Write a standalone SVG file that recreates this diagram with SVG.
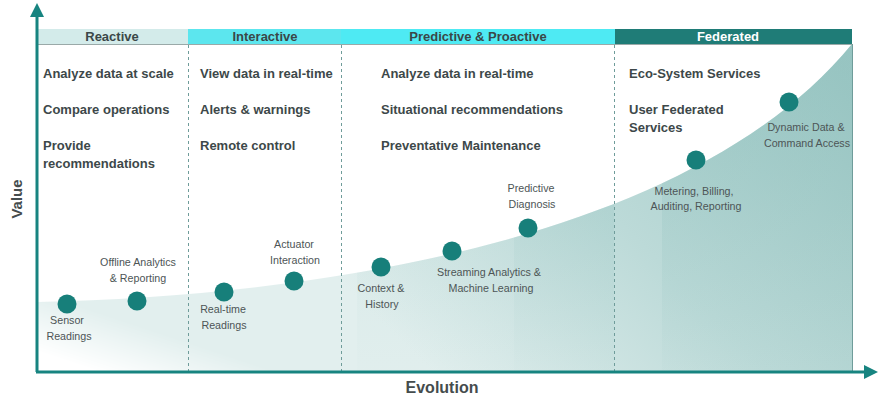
<svg xmlns="http://www.w3.org/2000/svg" width="880" height="404" viewBox="0 0 880 404">
  <style>
    .hd { font-family: "Liberation Sans", Arial, sans-serif; font-weight: bold; font-size: 13px; fill: #3a4748; text-anchor: middle; }
    .it { font-family: "Liberation Sans", Arial, sans-serif; font-weight: bold; font-size: 13px; fill: #3d4849; }
    .lb { font-family: "Liberation Sans", Arial, sans-serif; font-size: 10.7px; fill: #4d5556; text-anchor: middle; }
    .ax { font-family: "Liberation Sans", Arial, sans-serif; font-weight: bold; fill: #454c4d; text-anchor: middle; }
    .dash { stroke: #6f9c9a; stroke-width: 1; stroke-dasharray: 3 3; fill: none; }
    .dot { fill: #177f7a; }
  </style>
  <defs>
    <linearGradient id="fillG" gradientUnits="userSpaceOnUse" x1="852" y1="44" x2="480" y2="420">
      <stop offset="0" stop-color="#9cc7c4"/>
      <stop offset="0.55" stop-color="#bcdad8"/>
      <stop offset="1" stop-color="#e2efee"/>
    </linearGradient>
    <linearGradient id="fadeG" gradientUnits="userSpaceOnUse" x1="62" y1="280" x2="38" y2="352">
      <stop offset="0" stop-color="#fff"/>
      <stop offset="0.25" stop-color="#fff"/>
      <stop offset="1" stop-color="#000"/>
    </linearGradient>
    <linearGradient id="bandG" gradientUnits="userSpaceOnUse" x1="0" y1="60" x2="0" y2="372">
      <stop offset="0" stop-color="#8fc0bd" stop-opacity="0.55"/>
      <stop offset="1" stop-color="#8fc0bd" stop-opacity="0.05"/>
    </linearGradient>
    <mask id="fadeM" maskUnits="userSpaceOnUse" x="0" y="0" width="880" height="404">
      <rect x="0" y="0" width="880" height="404" fill="url(#fadeG)"/>
    </mask>
    <clipPath id="areaClip">
      <path d="M37,302 C350,295 700,230 852,44 L852,371 L37,371 Z"/>
    </clipPath>
  </defs>

  <!-- area under curve -->
  <g id="area" mask="url(#fadeM)">
    <path d="M37,302 C350,295 700,230 852,44 L852,371 L37,371 Z" fill="url(#fillG)"/>
    <g clip-path="url(#areaClip)">
      <rect x="357" y="40" width="157" height="332" fill="url(#bandG)" opacity="0.35"/>
      <rect x="514" y="40" width="100" height="332" fill="url(#bandG)" opacity="0.8"/>
      <rect x="662" y="40" width="190" height="332" fill="url(#bandG)" opacity="0.8"/>
    </g>
  </g>

  <!-- header band -->
  <g id="header">
    <rect x="37" y="29" width="151" height="15" fill="#d3ebea"/>
    <rect x="188" y="29" width="153" height="15" fill="#5ce6ee"/>
    <rect x="341" y="29" width="274" height="15" fill="#4eeaf3"/>
    <rect x="615" y="29" width="237" height="15" fill="#1f7c77"/>
    <line x1="37" y1="44.5" x2="852" y2="44.5" stroke="#9aa9a8" stroke-width="1"/>
    <text class="hd" x="112" y="41">Reactive</text>
    <text class="hd" x="265" y="41">Interactive</text>
    <text class="hd" x="478" y="41">Predictive &amp; Proactive</text>
    <text class="hd" x="728" y="41" style="fill:#ffffff">Federated</text>
  </g>

  <!-- frame and separators -->
  <g id="separators">
    <line class="dash" x1="188.5" y1="45" x2="188.5" y2="371"/>
    <line class="dash" x1="341.5" y1="45" x2="341.5" y2="371"/>
    <line class="dash" x1="614.5" y1="45" x2="614.5" y2="371"/>
    <line x1="852.5" y1="44" x2="852.5" y2="371" stroke="#6f9c9a" stroke-width="1"/>
  </g>

  <!-- column items -->
  <g id="col-reactive">
    <text class="it" x="43" y="78">Analyze data at scale</text>
    <text class="it" x="43" y="114">Compare operations</text>
    <text class="it" x="43" y="150">Provide</text>
    <text class="it" x="43" y="168">recommendations</text>
  </g>
  <g id="col-interactive">
    <text class="it" x="200" y="78">View data in real-time</text>
    <text class="it" x="200" y="114">Alerts &amp; warnings</text>
    <text class="it" x="200" y="150">Remote control</text>
  </g>
  <g id="col-predictive">
    <text class="it" x="381" y="78">Analyze data in real-time</text>
    <text class="it" x="381" y="114">Situational recommendations</text>
    <text class="it" x="381" y="150">Preventative Maintenance</text>
  </g>
  <g id="col-federated">
    <text class="it" x="629" y="78">Eco-System Services</text>
    <text class="it" x="629" y="114">User Federated</text>
    <text class="it" x="629" y="132">Services</text>
  </g>

  <!-- axes -->
  <g id="connectors">
    <line x1="37" y1="372" x2="37" y2="14" stroke="#178480" stroke-width="3"/>
    <polygon points="37,3 30,17 44,17" fill="#178480"/>
    <line x1="36" y1="372" x2="866" y2="372" stroke="#178480" stroke-width="3"/>
    <polygon points="878,372 864,365 864,379" fill="#178480"/>
  </g>
  <text class="ax" x="22" y="199" font-size="15" transform="rotate(-90 22 199)">Value</text>
  <text class="ax" x="442" y="393" font-size="16">Evolution</text>

  <!-- milestones -->
  <g id="n-sensor">
    <circle class="dot" cx="67" cy="304" r="9.5"/>
    <text class="lb" x="67" y="324">Sensor</text>
    <text class="lb" x="69" y="340">Readings</text>
  </g>
  <g id="n-offline">
    <circle class="dot" cx="137" cy="301" r="9.5"/>
    <text class="lb" x="138" y="266">Offline Analytics</text>
    <text class="lb" x="138" y="282">&amp; Reporting</text>
  </g>
  <g id="n-realtime">
    <circle class="dot" cx="224" cy="292" r="9.5"/>
    <text class="lb" x="223" y="313">Real-time</text>
    <text class="lb" x="224" y="329">Readings</text>
  </g>
  <g id="n-actuator">
    <circle class="dot" cx="294" cy="281" r="9.5"/>
    <text class="lb" x="294" y="248">Actuator</text>
    <text class="lb" x="295" y="264">Interaction</text>
  </g>
  <g id="n-context">
    <circle class="dot" cx="381" cy="267" r="9.5"/>
    <text class="lb" x="381" y="292">Context &amp;</text>
    <text class="lb" x="382" y="308">History</text>
  </g>
  <g id="n-streaming">
    <circle class="dot" cx="452" cy="251" r="9.5"/>
    <text class="lb" x="489" y="276">Streaming Analytics &amp;</text>
    <text class="lb" x="491" y="292">Machine Learning</text>
  </g>
  <g id="n-predictive">
    <circle class="dot" cx="528" cy="228" r="9.5"/>
    <text class="lb" x="531" y="192">Predictive</text>
    <text class="lb" x="532" y="208">Diagnosis</text>
  </g>
  <g id="n-metering">
    <circle class="dot" cx="696" cy="160" r="9.5"/>
    <text class="lb" x="694" y="195">Metering, Billing,</text>
    <text class="lb" x="696" y="210">Auditing, Reporting</text>
  </g>
  <g id="n-dynamic">
    <circle class="dot" cx="789" cy="102" r="9.5"/>
    <text class="lb" x="806" y="131">Dynamic Data &amp;</text>
    <text class="lb" x="807" y="147">Command Access</text>
  </g>
</svg>
